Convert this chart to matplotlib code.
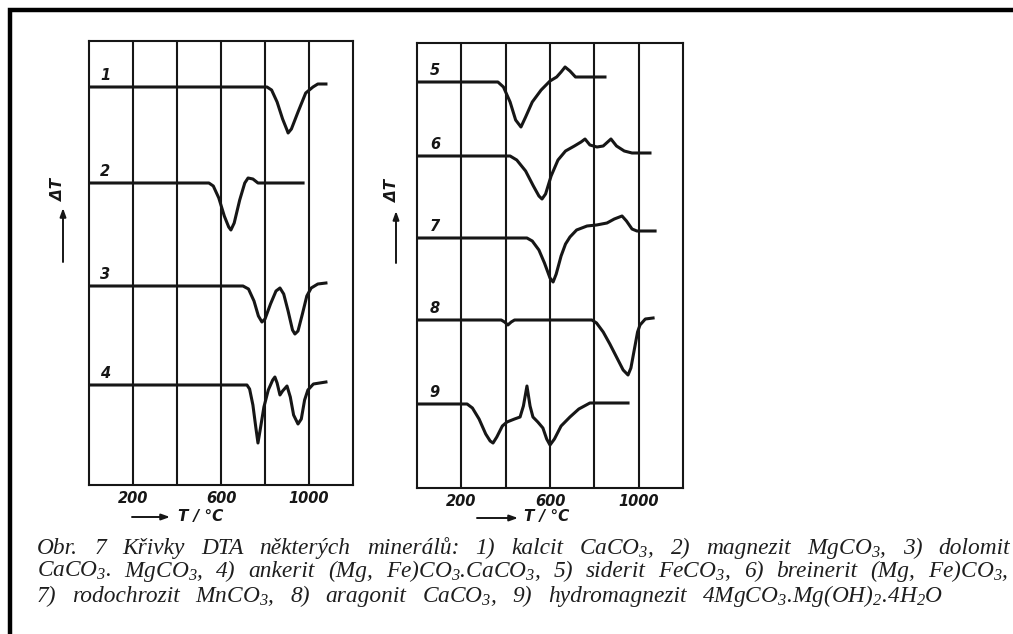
import numpy as np
import matplotlib
matplotlib.use("Agg")
import matplotlib.pyplot as plt

# caption / math font setup
plt.rcParams['mathtext.fontset'] = 'custom'
plt.rcParams['mathtext.rm'] = 'Liberation Serif:italic'
plt.rcParams['mathtext.it'] = 'Liberation Serif:italic'
plt.rcParams['mathtext.default'] = 'it'

# ---- data: DTA curves, T in degC, deflection dT in arbitrary units (up = +) ----
t1 = [0, 809, 830, 855, 880, 900, 905, 920, 950, 985, 1018, 1040, 1077]
d1 = [0, 0, -3, -15, -32, -43, -46, -42, -25, -6, 0, 3, 3]
t2 = [0, 545, 565, 590, 615, 635, 645, 660, 685, 708, 723, 745, 768, 973]
d2 = [0, 0, -3, -15, -33, -44, -47, -40, -17, 0, 5, 4, 0, 0]
t3 = [0, 700, 725, 750, 770, 786, 800, 825, 850, 868, 885, 905, 925, 936, 950, 970, 990, 1010, 1040, 1077]
d3 = [0, 0, -3, -15, -30, -36, -33, -18, -5, -2, -8, -25, -44, -48, -45, -28, -10, -2, 2, 3]
t4 = [0, 718, 730, 745, 758, 768, 778, 795, 815, 835, 845, 855, 868, 880, 900, 915, 930, 950, 965, 980, 995, 1020, 1077]
d4 = [0, 0, -4, -20, -42, -58, -45, -22, -5, 5, 8, 2, -10, -6, -1, -12, -30, -39, -34, -15, -5, 1, 3]

t5 = [0, 365, 390, 420, 445, 469, 490, 520, 560, 600, 630, 650, 668, 690, 715, 735, 848]
d5 = [0, 0, -5, -20, -38, -45, -35, -20, -8, 1, 5, 10, 15, 11, 5, 5, 5]
t6 = [0, 420, 450, 490, 525, 550, 564, 580, 605, 636, 670, 710, 740, 758, 780, 812, 840, 860, 875, 900, 935, 970, 1051]
d6 = [0, 0, -4, -15, -30, -40, -43, -38, -20, -4, 5, 10, 14, 17, 11, 9, 10, 14, 17, 10, 5, 3, 3]
t7 = [0, 496, 520, 550, 575, 600, 614, 628, 650, 670, 690, 720, 767, 810, 857, 890, 925, 945, 970, 992, 1074]
d7 = [0, 0, -3, -12, -25, -40, -44, -36, -18, -6, 1, 8, 12, 13, 15, 19, 22, 17, 9, 7, 7]
t8 = [0, 380, 395, 410, 425, 440, 789, 810, 840, 870, 900, 930, 952, 965, 980, 995, 1006, 1030, 1065]
d8 = [0, 0, -2, -5, -2, 0, 0, -3, -12, -24, -37, -50, -55, -48, -30, -12, -5, 1, 2]
t9 = [0, 226, 250, 280, 310, 330, 343, 360, 385, 406, 440, 465, 480, 496, 510, 523, 545, 568, 585, 600, 620, 650, 690, 730, 780, 952]
d9 = [0, 0, -4, -15, -30, -37, -39, -33, -22, -18, -15, -13, -2, 18, -2, -13, -18, -24, -35, -41, -35, -22, -13, -5, 1, 1]

left_curves = [("1", t1, d1, 398), ("2", t2, d2, 302), ("3", t3, d3, 199), ("4", t4, d4, 100)]
right_curves = [("5", t5, d5, 406), ("6", t6, d6, 332), ("7", t7, d7, 250), ("8", t8, d8, 168), ("9", t9, d9, 84)]

grid_T = [200, 400, 600, 800, 1000]
tick_T = [200, 600, 1000]
tick_lab = ["200", "600", "1000"]

caption = [
    "Obr. 7 Křivky DTA některých minerálů: 1) kalcit CaCO$_3$, 2) magnezit MgCO$_3$, 3) dolomit",
    "CaCO$_3$. MgCO$_3$, 4) ankerit (Mg, Fe)CO$_3$.CaCO$_3$, 5) siderit FeCO$_3$, 6) breinerit (Mg, Fe)CO$_3$,",
    "7) rodochrozit MnCO$_3$, 8) aragonit CaCO$_3$, 9) hydromagnezit 4MgCO$_3$.Mg(OH)$_2$.4H$_2$O",
]

W, H = 1013, 634
fig = plt.figure(figsize=(W / 100, H / 100), dpi=100)
fig.patch.set_facecolor("white")

ink = "#161616"
lab_font = dict(family="DejaVu Sans", style="italic", fontweight="bold", color=ink)


def px_axes(x0, y0, x1, y1):
    # axes from pixel box (top-left origin)
    return fig.add_axes([x0 / W, 1 - y1 / H, (x1 - x0) / W, (y1 - y0) / H])


def panel(box, curves, lab_T):
    ax = px_axes(*box)
    ax.set_xlim(0, 1200)
    ax.set_ylim(0, box[3] - box[1])
    for s in ax.spines.values():
        s.set_linewidth(1.5)
        s.set_color(ink)
    for g in grid_T:
        ax.axvline(g, color=ink, lw=1.5)
    for name, t, d, base in curves:
        ax.plot(t, np.array(d) + base, color=ink, lw=2.2, solid_joinstyle="round")
        ax.text(lab_T, base + 4, name, fontsize=10.5, va="bottom", ha="center", **lab_font)
    ax.set_yticks([])
    ax.set_xticks(tick_T)
    ax.set_xticklabels(tick_lab, fontsize=10.5, **lab_font)
    ax.tick_params(axis="x", length=0, pad=4)
    return ax


panel((89, 41, 353, 485), left_curves, 73)
panel((417, 43, 683, 488), right_curves, 81)

# overlay in pixel coordinates for arrows, borders, caption
ov = fig.add_axes([0, 0, 1, 1])
ov.set_xlim(0, W)
ov.set_ylim(H, 0)
ov.axis("off")
ov.patch.set_alpha(0)

# outer border (left and top only, picture is cropped)
ov.plot([9.5, 9.5, W], [H, 10, 10], color="black", lw=3.2, solid_joinstyle="miter")

arr = dict(arrowstyle="-|>,head_length=0.5,head_width=0.18", color=ink, lw=1.4, shrinkA=0, shrinkB=0)
# delta T arrows
ov.annotate("", xy=(63, 208), xytext=(63, 262), arrowprops=arr)
ov.text(59, 190, "ΔT", rotation=90, ha="center", va="center", fontsize=11, **lab_font)
ov.annotate("", xy=(396, 211), xytext=(396, 263), arrowprops=arr)
ov.text(392, 191, "ΔT", rotation=90, ha="center", va="center", fontsize=11, **lab_font)
# temperature arrows
ov.annotate("", xy=(170, 517), xytext=(132, 517), arrowprops=arr)
ov.text(178, 516, "T / °C", ha="left", va="center", fontsize=11, **lab_font)
ov.annotate("", xy=(518, 518), xytext=(477, 518), arrowprops=arr)
ov.text(524, 517, "T / °C", ha="left", va="center", fontsize=11, **lab_font)

# caption, spread words between left edge and each line's right end
cap_font = dict(family="Liberation Serif", style="italic", fontsize=16.8, color="#1e1e1e")
x_left = 37
x_right = [1010, 1008, 943]
baselines = [554, 577, 602]
renderer = fig.canvas.get_renderer()
for i, line in enumerate(caption):
    words = line.split(" ")
    objs = [ov.text(0, baselines[i], w, ha="left", va="baseline", **cap_font) for w in words]
    widths = [o.get_window_extent(renderer=renderer).width for o in objs]
    gap = (x_right[i] - x_left - sum(widths)) / (len(words) - 1)
    x = x_left
    for o, w in zip(objs, widths):
        o.set_x(x)
        x += w + gap

fig.savefig("out.png", dpi=100)
